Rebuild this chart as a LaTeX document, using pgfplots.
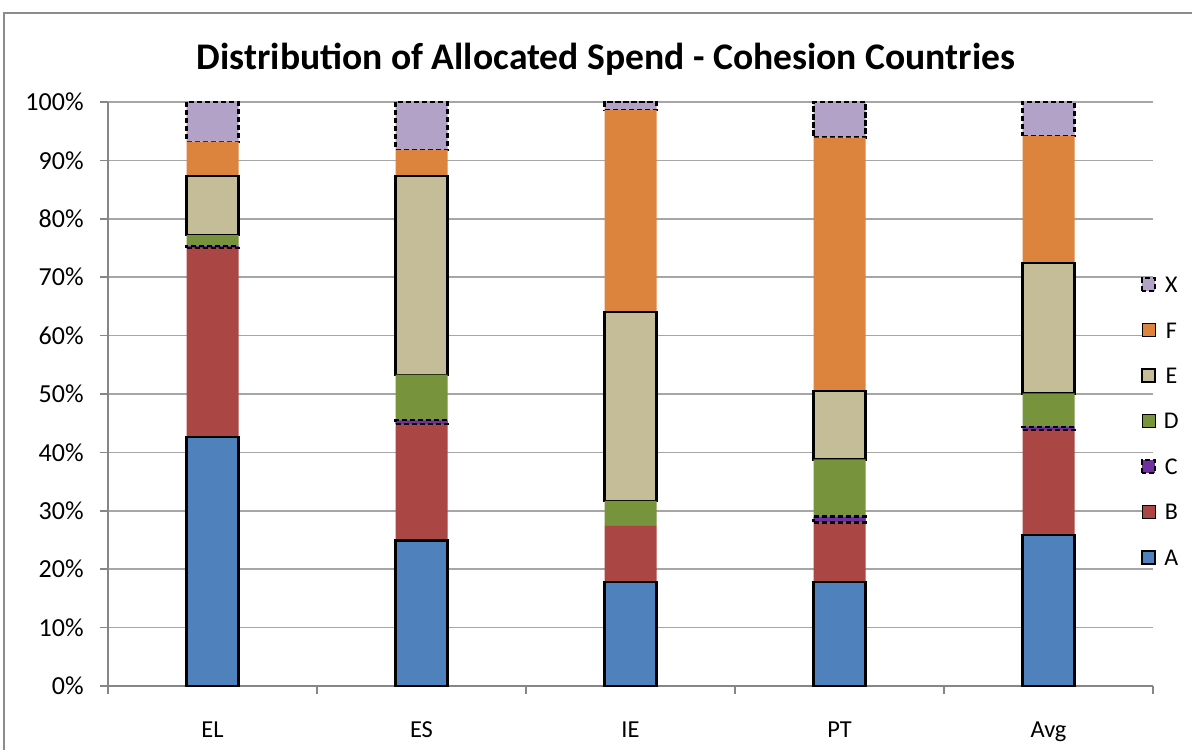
\documentclass[border=0pt]{standalone}
\usepackage{fontspec}
\setmainfont{Carlito}
\usepackage{pgfplots}
\pgfplotsset{compat=1.18}

\definecolor{cA}{HTML}{4F81BD}
\definecolor{cB}{HTML}{AA4644}
\definecolor{cC}{HTML}{7030A0}
\definecolor{cD}{HTML}{77933C}
\definecolor{cE}{HTML}{C4BD97}
\definecolor{cF}{HTML}{DC843E}
\definecolor{cX}{HTML}{B3A2C7}
\definecolor{framegray}{HTML}{8C8C8C}
\definecolor{axisgray}{HTML}{868686}
\definecolor{gridgray}{HTML}{A6A6A6}

\tikzset{xldash/.style={dash pattern=on 2.6pt off 1.4pt}}

\pgfplotsset{
  chartframe/.style={
    at={(54pt,31.5pt)}, anchor=south west,
    scale only axis, width=522.5pt, height=292pt,
    ybar stacked, bar width=26pt,
    xmin=-0.5, xmax=4.5, ymin=0, ymax=100,
  }
}

\begin{document}
\begin{tikzpicture}
\useasboundingbox (0,0) rectangle (596pt,374.5pt);
\begin{scope}
  \clip (0,0) rectangle (596pt,374.5pt);
  \fill[white] (0,0) rectangle (596pt,374.5pt);
  \draw[line width=1pt, framegray] (2pt,-20pt) rectangle (620pt,368pt);
\end{scope}

\node[anchor=base, font=\fontsize{18.8}{21}\selectfont\bfseries]
  at (303pt,339.5pt) {Distribution of Allocated Spend - Cohesion Countries};

% main stacked bars
\begin{axis}[
  chartframe,
  /pgf/number format/assume math mode=true,
  axis x line*=bottom, axis y line*=left,
  axis line style={-, draw=axisgray, line width=0.75pt},
  ymajorgrids, major grid style={draw=gridgray, line width=0.75pt},
  xtick={0,1,2,3,4}, xticklabels={EL,ES,IE,PT,Avg},
  minor xtick={-0.5,0.5,1.5,2.5,3.5,4.5},
  major x tick style={draw=none},
  minor x tick style={draw=axisgray, line width=0.75pt},
  ytick={0,10,...,100},
  yticklabel={\pgfmathprintnumber{\tick}\%},
  y tick style={draw=axisgray, line width=0.75pt},
  tick align=outside, major tick length=4pt, minor tick length=4pt,
  yticklabel style={anchor=east, inner sep=0pt, xshift=-8pt,
    font=\fontsize{13}{15}\selectfont},
  xticklabel style={anchor=base, inner sep=0pt, yshift=-21.8pt,
    font=\fontsize{12.2}{14}\selectfont},
  legend image code/.code={\draw[#1] (0pt,-3.25pt) rectangle (6.5pt,3.25pt);},
  reverse legend,
  legend style={
    at={(axis description cs:0.9885,0.7007)}, anchor=north west,
    draw=none, fill=none, inner sep=0pt, outer sep=0pt,
    row sep=14.7pt, column sep=0pt,
    font=\fontsize{12}{14}\selectfont,
    nodes={inner sep=0pt, text height=8pt, text depth=0pt},
    /tikz/every odd column/.append style={column sep=3.8pt},
  },
]
\addplot[fill=cA, draw=black, line width=1.1pt]
  coordinates {(0,42.6) (1,24.9) (2,17.8) (3,17.8) (4,25.9)};
\addplot[fill=cB, draw=none]
  coordinates {(0,32.4) (1,20.0) (2,9.6) (3,10.2) (4,17.9)};
\addplot[fill=cC, draw=none,
  legend image post style={draw=black, line width=1.2pt, xldash}]
  coordinates {(0,0.3) (1,0.6) (2,0) (3,1.0) (4,0.6)};
\addplot[fill=cD, draw=none]
  coordinates {(0,1.9) (1,7.8) (2,4.3) (3,9.8) (4,5.7)};
\addplot[fill=cE, draw=black, line width=1.1pt]
  coordinates {(0,10.1) (1,34.0) (2,32.4) (3,11.7) (4,22.3)};
\addplot[fill=cF, draw=none]
  coordinates {(0,5.9) (1,4.5) (2,34.5) (3,43.4) (4,21.8)};
\addplot[fill=cX, draw=black, line width=1.2pt, xldash]
  coordinates {(0,6.8) (1,8.2) (2,1.4) (3,6.1) (4,5.8)};
\legend{A,B,C,D,E,F,X}
\end{axis}

% dashed outlines of series C where it is non-zero
\begin{axis}[chartframe, hide axis]
\addplot[fill=none, draw=none]
  coordinates {(0,75.0) (1,44.9) (3,28.0) (4,43.8)};
\addplot[fill=cC, draw=black, line width=1.2pt, xldash]
  coordinates {(0,0.3) (1,0.6) (3,1.0) (4,0.6)};
\end{axis}
\end{tikzpicture}
\end{document}
